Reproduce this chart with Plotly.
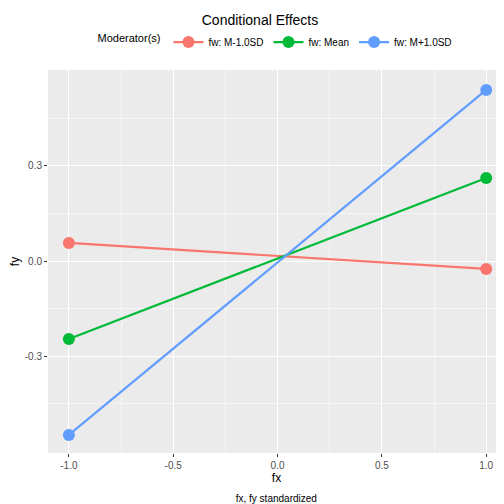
import plotly.graph_objects as go

x_vals = [-1.0, 1.0]
series_names = ["fw: M-1.0SD", "fw: Mean", "fw: M+1.0SD"]
series_y = [[0.057, -0.025], [-0.246, 0.262], [-0.549, 0.540]]
colors = ["#F8766D", "#00BA38", "#619CFF"]

fig = go.Figure()
for name, ys, c in zip(series_names, series_y, colors):
    fig.add_trace(go.Scatter(x=x_vals, y=ys, name=name, mode="lines+markers",
                             line=dict(color=c, width=2.2), marker=dict(color=c, size=12)))

fig.update_layout(
    width=504, height=504, paper_bgcolor="white", plot_bgcolor="#EBEBEB",
    margin=dict(l=40, r=7, t=62, b=59, autoexpand=False),
    font=dict(family="Liberation Sans, Arial", size=10, color="#4D4D4D"),
    title=dict(text="Conditional Effects", x=0.5, xanchor="center", y=0.985, yanchor="top",
               font=dict(size=14, color="black")),
    legend=dict(orientation="h", x=0.5, xanchor="center", y=1.035, yanchor="bottom",
                title=dict(text="Moderator(s)", font=dict(size=11, color="black"), side="left"),
                font=dict(size=10, color="black"), itemwidth=30),
    xaxis=dict(range=[-1.1, 1.09], tickvals=[-1.0, -0.5, 0.0, 0.5, 1.0], automargin=False,
               ticktext=["-1.0", "-0.5", "0.0", "0.5", "1.0"], gridcolor="white",
               zeroline=False, ticks="outside", ticklen=3, tickcolor="#333333",
               title=dict(text="fx", font=dict(size=12, color="black"), standoff=2)),
    yaxis=dict(range=[-0.606, 0.603], tickvals=[-0.3, 0.0, 0.3], automargin=False,
               ticktext=["-0.3", "0.0", "0.3"], gridcolor="white", zeroline=False,
               ticks="outside", ticklen=3, tickcolor="#333333",
               title=dict(text="fy", font=dict(size=12, color="black"), standoff=4)),
)
fig.update_xaxes(minor=dict(tickvals=[-0.75, -0.25, 0.25, 0.75], gridcolor="#F5F5F5", showgrid=True))
fig.update_yaxes(minor=dict(tickvals=[-0.45, -0.15, 0.15, 0.45], gridcolor="#F5F5F5", showgrid=True))
fig.add_annotation(text="fx, fy standardized<br>Model implied means and SDs are used in drawing the points.",
                   xref="paper", yref="paper", x=0.5, y=-0.098, yanchor="top", showarrow=False,
                   font=dict(size=10, color="black"))
fig.write_html("out.html")
